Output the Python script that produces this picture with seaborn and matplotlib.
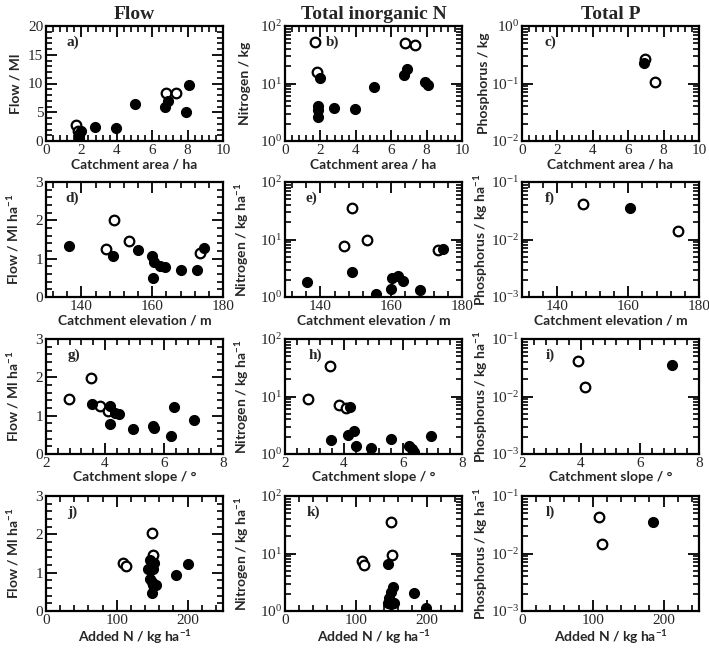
import numpy as np
import pandas as pd
import matplotlib
matplotlib.use("Agg")
import matplotlib.pyplot as plt
from matplotlib.ticker import MultipleLocator, LogLocator, NullFormatter, LogFormatterMathtext
import seaborn as sns

sns.set_theme(style="ticks")
plt.rcParams['font.family'] = ['Liberation Serif', 'DejaVu Serif']
plt.rcParams['mathtext.fontset'] = 'stix'
plt.rcParams['mathtext.default'] = 'regular'
plt.rcParams['xtick.direction'] = 'in'
plt.rcParams['ytick.direction'] = 'in'
plt.rcParams['xtick.top'] = True
plt.rcParams['ytick.right'] = True
plt.rcParams['xtick.minor.visible'] = True
plt.rcParams['ytick.minor.visible'] = True

# ---------------- data ----------------
col_titles = ["Flow", "Total inorganic N", "Total P"]
panel_letters = ["a)", "b)", "c)", "d)", "e)", "f)", "g)", "h)", "i)", "j)", "k)", "l)"]
x_labels = ["Catchment area / ha", "Catchment elevation / m", "Catchment slope / °", "Added N / kg ha$^{-1}$"]
y_labels_row1 = ["Flow / Ml", "Nitrogen / kg", "Phosphorus / kg"]
y_labels_other = ["Flow / Ml ha$^{-1}$", "Nitrogen / kg ha$^{-1}$", "Phosphorus / kg ha$^{-1}$"]

# a) Flow vs catchment area
a_open_x = [1.68, 1.81, 6.77, 7.33]
a_open_y = [2.8, 1.8, 8.3, 8.3]
a_fill_x = [1.87, 1.87, 1.87, 1.95, 2.75, 3.96, 5.0, 6.7, 6.88, 7.9, 8.07]
a_fill_y = [0.3, 0.9, 1.3, 1.7, 2.4, 2.3, 6.4, 6.0, 7.0, 5.0, 9.8]

# b) TIN vs catchment area
b_open_x = [1.68, 1.81, 6.77, 7.33]
b_open_y = [52, 16, 50, 47]
b_fill_x = [1.87, 1.87, 1.87, 1.95, 2.75, 3.96, 5.0, 6.7, 6.88, 7.9, 8.07]
b_fill_y = [4.0, 3.4, 2.6, 12.5, 3.8, 3.6, 8.7, 14.0, 18.0, 10.5, 9.5]

# c) TP vs catchment area
c_open_x = [6.95, 7.5]
c_open_y = [0.27, 0.105]
c_fill_x = [6.9]
c_fill_y = [0.23]

# d) Flow per ha vs elevation
d_open_x = [147.0, 149.1, 153.4, 173.6]
d_open_y = [1.25, 2.0, 1.45, 1.15]
d_fill_x = [136.4, 148.9, 155.9, 159.9, 160.2, 160.4, 162.1, 163.7, 168.1, 172.7, 174.7]
d_fill_y = [1.33, 1.08, 1.23, 1.08, 0.5, 0.91, 0.81, 0.77, 0.70, 0.70, 1.27]

# e) TIN per ha vs elevation
e_open_x = [146.6, 149.0, 153.2, 173.2]
e_open_y = [7.6, 35, 9.7, 6.5]
e_fill_x = [136.3, 148.9, 155.7, 159.9, 160.1, 161.8, 163.4, 168.1, 174.6]
e_fill_y = [1.79, 2.69, 1.15, 1.4, 2.1, 2.3, 1.9, 1.3, 6.8]

# f) TP per ha vs elevation
f_open_x = [147.3, 174.0]
f_open_y = [0.042, 0.014]
f_fill_x = [160.5]
f_fill_y = [0.035]

# g) Flow per ha vs slope
g_open_x = [2.77, 3.54, 3.84, 4.09]
g_open_y = [1.44, 1.99, 1.24, 1.12]
g_fill_x = [3.56, 4.18, 4.35, 4.46, 4.18, 4.94, 5.62, 5.67, 6.25, 6.35, 7.0]
g_fill_y = [1.31, 1.25, 1.08, 1.05, 0.77, 0.64, 0.74, 0.67, 0.48, 1.22, 0.90]

# h) TIN per ha vs slope
h_open_x = [2.78, 3.51, 3.83, 4.07]
h_open_y = [9.1, 34, 7.1, 6.2]
h_fill_x = [4.2, 4.15, 4.35, 3.57, 4.41, 4.93, 5.6, 6.2, 6.32, 6.37, 6.96]
h_fill_y = [6.5, 2.16, 2.5, 1.72, 1.36, 1.28, 1.84, 1.37, 1.2, 1.1, 2.02]

# i) TP per ha vs slope
i_open_x = [3.9, 4.15]
i_open_y = [0.042, 0.0147]
i_fill_x = [7.1]
i_fill_y = [0.036]

# j) Flow per ha vs added N
j_open_x = [108.5, 113, 149.3, 151.6]
j_open_y = [1.26, 1.17, 2.03, 1.47]
j_fill_x = [147, 144.6, 151.6, 149.3, 150.5, 156, 149.3, 147, 152, 183, 200]
j_fill_y = [1.32, 1.09, 1.09, 0.76, 0.67, 0.69, 0.48, 0.84, 1.25, 0.93, 1.23]

# k) TIN per ha vs added N
k_open_x = [109, 112, 149.5, 151]
k_open_y = [7.3, 6.4, 35, 9.3]
k_fill_x = [146, 152, 150, 147, 145, 150, 154, 182, 199]
k_fill_y = [6.5, 2.6, 2.1, 1.7, 1.4, 1.3, 1.4, 2.05, 1.15]

# l) TP per ha vs added N
l_open_x = [109, 113]
l_open_y = [0.044, 0.0148]
l_fill_x = [185]
l_fill_y = [0.036]

panels = [
    (a_open_x, a_open_y, a_fill_x, a_fill_y),
    (b_open_x, b_open_y, b_fill_x, b_fill_y),
    (c_open_x, c_open_y, c_fill_x, c_fill_y),
    (d_open_x, d_open_y, d_fill_x, d_fill_y),
    (e_open_x, e_open_y, e_fill_x, e_fill_y),
    (f_open_x, f_open_y, f_fill_x, f_fill_y),
    (g_open_x, g_open_y, g_fill_x, g_fill_y),
    (h_open_x, h_open_y, h_fill_x, h_fill_y),
    (i_open_x, i_open_y, i_fill_x, i_fill_y),
    (j_open_x, j_open_y, j_fill_x, j_fill_y),
    (k_open_x, k_open_y, k_fill_x, k_fill_y),
    (l_open_x, l_open_y, l_fill_x, l_fill_y),
]

x_ranges = [(0, 10), (130, 180), (2, 8), (0, 250)]
x_major = [2, 20, 2, 100]
x_minor = [0.4, 4, 0.4, 20]
y_ranges_row1 = [(0, 20), (1, 100), (0.01, 1)]
y_ranges_other = [(0, 3), (1, 100), (0.001, 0.1)]

# ---------------- figure ----------------
W, H = 709, 650
fig = plt.figure(figsize=(W / 100, H / 100), dpi=100)

col_left = [46, 285, 522]
row_top = [26, 182, 339, 496]
aw, ah = 177, 115
ylabel_x = [-0.14, -0.19, -0.18]
letter_x = [0.15, 0.27, 0.16, 0.15, 0.15, 0.16, 0.16, 0.17, 0.16, 0.15, 0.16, 0.16]

label_font = dict(family=['Lato', 'DejaVu Sans'], fontweight='bold', fontsize=10)

for r in range(4):
    for c in range(3):
        idx = r * 3 + c
        ax = fig.add_axes([col_left[c] / W, 1 - (row_top[r] + ah) / H, aw / W, ah / H])
        ox, oy, fx, fy = panels[idx]
        df_open = pd.DataFrame({"x": ox, "y": oy})
        df_fill = pd.DataFrame({"x": fx, "y": fy})
        sns.scatterplot(data=df_open, x="x", y="y", ax=ax, s=48, marker="o",
                        facecolor="white", edgecolor="black", linewidth=1.6, zorder=3)
        sns.scatterplot(data=df_fill, x="x", y="y", ax=ax, s=52, marker="o",
                        color="black", edgecolor="black", linewidth=0.8, zorder=4)
        ax.set_xlim(*x_ranges[r])
        ax.xaxis.set_major_locator(MultipleLocator(x_major[r]))
        ax.xaxis.set_minor_locator(MultipleLocator(x_minor[r]))
        if c == 0:
            yr = y_ranges_row1[0] if r == 0 else y_ranges_other[0]
            ax.set_ylim(*yr)
            if r == 0:
                ax.yaxis.set_major_locator(MultipleLocator(5))
                ax.yaxis.set_minor_locator(MultipleLocator(1))
            else:
                ax.yaxis.set_major_locator(MultipleLocator(1))
                ax.yaxis.set_minor_locator(MultipleLocator(0.2))
        else:
            ax.set_yscale("log")
            yr = y_ranges_row1[c] if r == 0 else y_ranges_other[c]
            ax.set_ylim(*yr)
            ax.yaxis.set_major_locator(LogLocator(base=10, numticks=10))
            ax.yaxis.set_minor_locator(LogLocator(base=10, subs=np.arange(2, 10), numticks=20))
            ax.yaxis.set_minor_formatter(NullFormatter())
            ax.yaxis.set_major_formatter(LogFormatterMathtext())
        ax.tick_params(axis="both", which="both", direction="in", top=True, right=True,
                       bottom=True, left=True, color="black")
        ax.tick_params(axis="both", which="major", length=8, width=1.3, labelsize=11, pad=2)
        ax.tick_params(axis="both", which="minor", length=4, width=1.2)
        for sp in ax.spines.values():
            sp.set_visible(True)
            sp.set_linewidth(1.6)
            sp.set_color("black")
        ax.set_xlabel(x_labels[r], labelpad=1, **label_font)
        ylab = y_labels_row1[c] if r == 0 else y_labels_other[c]
        ax.set_ylabel(ylab, **label_font)
        ax.yaxis.set_label_coords(ylabel_x[c], 0.5)
        ax.text(letter_x[idx], 0.86, panel_letters[idx], transform=ax.transAxes,
                fontsize=11, fontweight='bold', family='Liberation Serif',
                ha='center', va='center')
        if r == 0:
            ax.set_title(col_titles[c], fontsize=14, fontweight='bold',
                         family='Liberation Serif', pad=5)
        ax.grid(False)

fig.savefig("out.png", dpi=100, facecolor="white")
